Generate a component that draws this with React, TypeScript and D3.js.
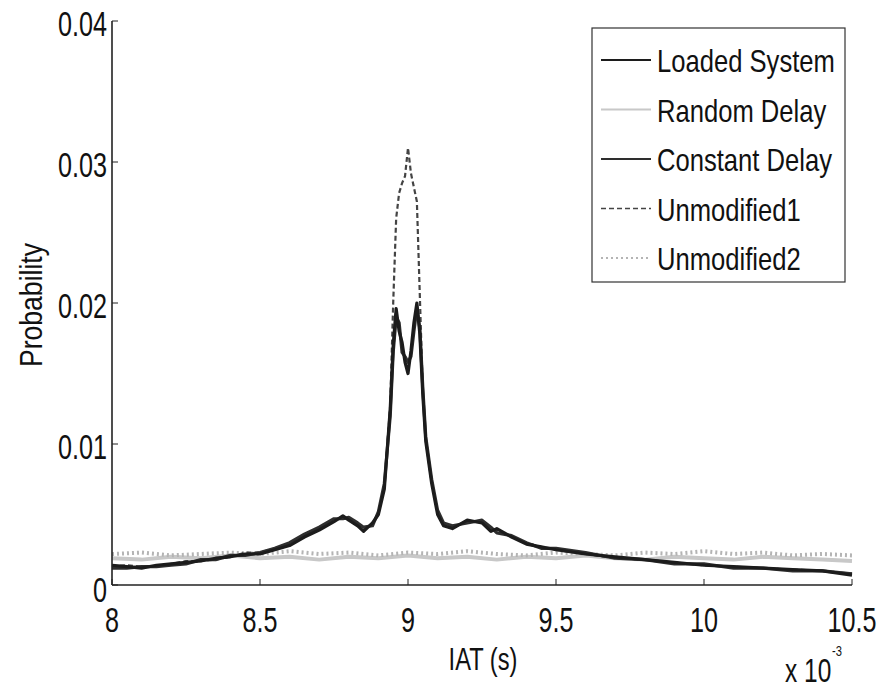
import React from "react";
import * as d3 from "d3";

// IAT in units of 1e-3 s
const iat = [
  8.0, 8.05, 8.1, 8.15, 8.2, 8.25, 8.3, 8.35, 8.4, 8.45, 8.5, 8.55, 8.6, 8.65, 8.7, 8.75, 8.78, 8.8, 8.83,
  8.85, 8.88, 8.9, 8.92, 8.94, 8.95, 8.96, 8.97, 8.98, 8.99, 9.0, 9.01, 9.02, 9.03, 9.04, 9.05, 9.06, 9.08,
  9.1, 9.12, 9.15, 9.2, 9.25, 9.28, 9.3, 9.35, 9.4, 9.45, 9.5, 9.6, 9.7, 9.8, 9.9, 10.0, 10.1, 10.2, 10.3,
  10.4, 10.5,
];

const loadedSystem = [
  0.0014, 0.0013, 0.0012, 0.0014, 0.0015, 0.0016, 0.0017, 0.0019, 0.002, 0.0022, 0.0022, 0.0025, 0.0028,
  0.0034, 0.0039, 0.0045, 0.0049, 0.0046, 0.0042, 0.0038, 0.0044, 0.005, 0.0068, 0.0125, 0.017, 0.0196,
  0.018, 0.0172, 0.0158, 0.015, 0.0166, 0.0186, 0.02, 0.0178, 0.0135, 0.0102, 0.0072, 0.005, 0.0042, 0.004,
  0.0046, 0.0044, 0.0038, 0.004, 0.0034, 0.0029, 0.0027, 0.0025, 0.0022, 0.002, 0.0018, 0.0016, 0.0014,
  0.0013, 0.0012, 0.0011, 0.001, 0.0007,
];

const constantDelay = [
  0.0012, 0.0012, 0.0013, 0.0013, 0.0014, 0.0015, 0.0018, 0.0018, 0.0021, 0.0021, 0.0023, 0.0026, 0.003,
  0.0036, 0.0041, 0.0047, 0.0047, 0.0048, 0.0044, 0.0041, 0.0042, 0.0052, 0.0072, 0.012, 0.0165, 0.019,
  0.0186, 0.0165, 0.0162, 0.0158, 0.0162, 0.018, 0.0196, 0.0182, 0.014, 0.0105, 0.0075, 0.0053, 0.0044,
  0.0042, 0.0044, 0.0046, 0.0041, 0.0037, 0.0035, 0.003, 0.0026, 0.0026, 0.0023, 0.0019, 0.0018, 0.0015,
  0.0015, 0.0012, 0.0012, 0.001, 0.001, 0.0008,
];

const unmodified1 = [
  0.0013, 0.0014, 0.0013, 0.0013, 0.0015, 0.0017, 0.0017, 0.0018, 0.002, 0.0023, 0.0023, 0.0026, 0.0029,
  0.0035, 0.004, 0.0046, 0.0048, 0.0047, 0.0043, 0.004, 0.0043, 0.0051, 0.007, 0.0128, 0.02, 0.026, 0.0278,
  0.0285, 0.029, 0.031, 0.0292, 0.0282, 0.0272, 0.0205, 0.0138, 0.0104, 0.0073, 0.0052, 0.0043, 0.0041,
  0.0045, 0.0045, 0.004, 0.0039, 0.0034, 0.003, 0.0027, 0.0025, 0.0022, 0.0019, 0.0018, 0.0016, 0.0014,
  0.0013, 0.0012, 0.0011, 0.001, 0.0008,
];

const flatIat = [
  8.0, 8.1, 8.2, 8.3, 8.4, 8.5, 8.6, 8.7, 8.8, 8.9, 9.0, 9.1, 9.2, 9.3, 9.4, 9.5, 9.6, 9.7, 9.8, 9.9, 10.0,
  10.1, 10.2, 10.3, 10.4, 10.5,
];
const randomDelay = [
  0.0019, 0.0018, 0.002, 0.0019, 0.0021, 0.0019, 0.002, 0.0018, 0.002, 0.0019, 0.0021, 0.0019, 0.002,
  0.0018, 0.002, 0.0019, 0.0021, 0.0019, 0.0018, 0.002, 0.0019, 0.0018, 0.002, 0.0019, 0.0018, 0.0017,
];
const unmodified2 = [
  0.0022, 0.0023, 0.0021, 0.0022, 0.0023, 0.0022, 0.0024, 0.0022, 0.0023, 0.0021, 0.0023, 0.0022, 0.0024,
  0.0022, 0.0021, 0.0023, 0.0022, 0.0021, 0.0023, 0.0022, 0.0024, 0.0022, 0.0023, 0.0021, 0.0022, 0.0021,
];

const xTicks = [8, 8.5, 9, 9.5, 10, 10.5];
const yTicks = [0, 0.01, 0.02, 0.03, 0.04];

const series = [
  { name: "Loaded System", xs: iat, ys: loadedSystem, color: "#1c1c1c", width: 3.2, dash: "" },
  { name: "Random Delay", xs: flatIat, ys: randomDelay, color: "#c8c8c8", width: 4, dash: "" },
  { name: "Constant Delay", xs: iat, ys: constantDelay, color: "#2e2e2e", width: 3.2, dash: "" },
  { name: "Unmodified1", xs: iat, ys: unmodified1, color: "#444", width: 2.2, dash: "5,3" },
  { name: "Unmodified2", xs: flatIat, ys: unmodified2, color: "#b4b4b4", width: 4, dash: "2,3" },
];

const W = 883;
const H = 690;
const left = 112;
const right = 852;
const top = 21;
const bottom = 585;
const font = "'Liberation Sans', Arial, sans-serif";

// condensed text, like the original's narrow font
function T(props: { x: number; y: number; size: number; sx: number; anchor?: string; rot?: number; children: any }) {
  const { x, y, size, sx, anchor, rot, children } = props;
  return (
    <text
      transform={`translate(${x},${y})${rot ? ` rotate(${rot})` : ""} scale(${sx},1)`}
      textAnchor={anchor || "start"}
      fontFamily={font}
      fontSize={size}
      fill="#111"
    >
      {children}
    </text>
  );
}

export default function App() {
  const x = d3.scaleLinear().domain([8, 10.5]).range([left, right]);
  const y = d3.scaleLinear().domain([0, 0.04]).range([bottom, top]);
  const line = d3
    .line<[number, number]>()
    .x((d) => x(d[0]))
    .y((d) => y(d[1]));

  // draw order: light ones first
  const order = [1, 4, 3, 2, 0];

  return (
    <svg width={W} height={H} style={{ position: "absolute", left: 0, top: 0, background: "#fff" }}>
      {order.map((i) => {
        const s = series[i];
        const pts = s.xs.map((v, k) => [v, s.ys[k]] as [number, number]);
        return (
          <path
            key={s.name}
            d={line(pts) || ""}
            fill="none"
            stroke={s.color}
            strokeWidth={s.width}
            strokeDasharray={s.dash || undefined}
            strokeLinejoin="round"
          />
        );
      })}

      {/* axes */}
      <line x1={left} y1={top} x2={left} y2={bottom} stroke="#222" strokeWidth={1.6} />
      <line x1={left} y1={bottom} x2={right} y2={bottom} stroke="#222" strokeWidth={1.6} />
      {xTicks.map((t) => (
        <g key={"x" + t}>
          <line x1={x(t)} x2={x(t)} y1={bottom} y2={bottom - 6} stroke="#222" />
          <T x={x(t)} y={632} size={35} sx={0.72} anchor="middle">
            {t}
          </T>
        </g>
      ))}
      {yTicks.map((t) => (
        <g key={"y" + t}>
          <line x1={left} x2={left + 6} y1={y(t)} y2={y(t)} stroke="#222" />
          <T x={107} y={y(t) + (t === 0 ? 17 : 15)} size={35} sx={0.72} anchor="end">
            {t === 0 ? "0" : t.toFixed(2)}
          </T>
        </g>
      ))}
      <T x={483} y={670} size={32} sx={0.74} anchor="middle">
        IAT (s)
      </T>
      <T x={785} y={682} size={34} sx={0.72}>
        x 10
      </T>
      <T x={832} y={656} size={14} sx={0.8}>
        -3
      </T>
      <T x={42} y={305} size={32} sx={0.83} anchor="middle" rot={-90}>
        Probability
      </T>

      {/* legend */}
      <rect x={592} y={28} width={253} height={254} fill="#fff" stroke="#333" strokeWidth={1.2} />
      {series.map((s, i) => {
        const cy = 60 + i * 49.5;
        return (
          <g key={"lg" + s.name}>
            <line
              x1={601}
              x2={651}
              y1={cy}
              y2={cy}
              stroke={s.color}
              strokeWidth={s.width > 2.5 ? 2 : 1.6}
              strokeDasharray={s.dash || undefined}
            />
            <T x={657} y={cy + 12} size={32} sx={0.8}>
              {s.name}
            </T>
          </g>
        );
      })}
    </svg>
  );
}
